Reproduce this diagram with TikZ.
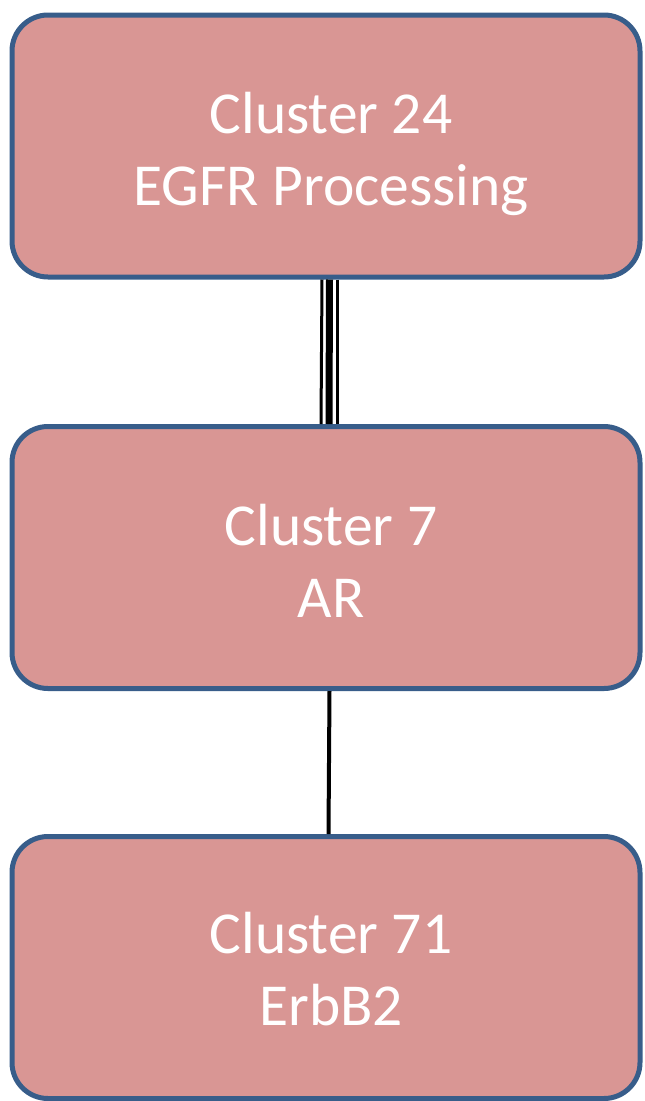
\documentclass[tikz,border=0pt]{standalone}
\usepackage{fontspec}
\setmainfont{Carlito}
\definecolor{boxfill}{RGB}{217,150,148}
\definecolor{boxline}{RGB}{56,93,138}
\tikzset{
  cluster/.style={draw=boxline, line width=5pt, fill=boxfill, rounded corners=36pt,
    minimum width=628pt, minimum height=262pt, inner sep=0pt},
  label/.style={text=white, align=center, font=\fontsize{59.5}{72}\selectfont, inner sep=0pt},
  thinlink/.style={line width=3pt, black},
  thicklink/.style={line width=7pt, black},
  plainlink/.style={line width=4pt, black}
}
\begin{document}
\begin{tikzpicture}[x=1pt,y=-1pt]
\useasboundingbox (0,0) rectangle (645,1101);
\node[cluster] (c24) at (326,146) {};
\node[cluster] (c7) at (326,557.5) {};
\node[cluster] (c71) at (326,967.5) {};
\node[label] (t24) at ([xshift=5pt,yshift=-8pt]c24.center) {Cluster 24\\EGFR Processing};
\node[label] (t7) at ([xshift=5pt,yshift=-3pt]c7.center) {Cluster 7\\AR};
\node[label] (t71) at ([xshift=5pt,yshift=-2pt]c71.center) {Cluster 71\\ErbB2};
\draw[thicklink] ([xshift=3.5pt]c24.south) -- ([xshift=3pt]c7.north);
\draw[thinlink] ([xshift=-4pt]c24.south) -- ([xshift=-5pt]c7.north);
\draw[thinlink] ([xshift=11pt]c24.south) -- ([xshift=11pt]c7.north);
\draw[plainlink] ([xshift=3.5pt]c7.south) -- ([xshift=2.5pt]c71.north);
\end{tikzpicture}
\end{document}
